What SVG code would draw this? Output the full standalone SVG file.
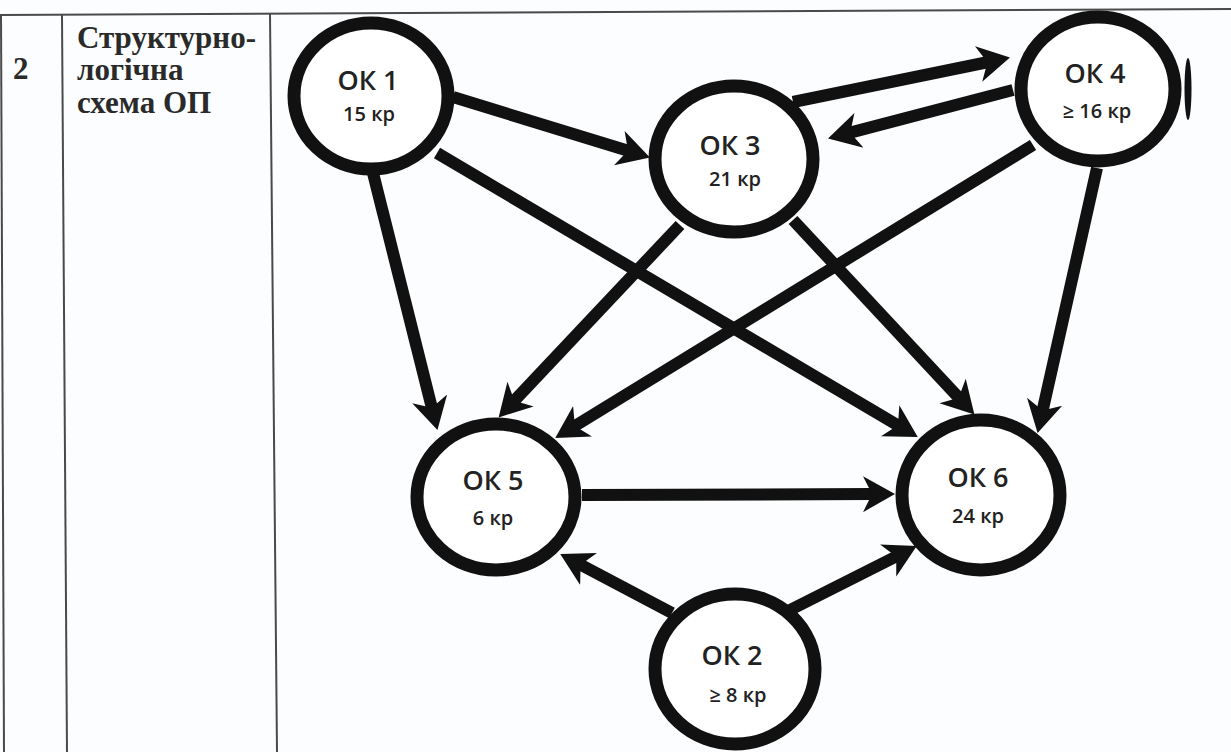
<svg xmlns="http://www.w3.org/2000/svg" width="1231" height="752" viewBox="0 0 1231 752">
<defs>
<style>
.tbl{stroke:#4a4a4a;stroke-width:2;fill:none}
.hdr{font-family:"Liberation Serif",serif;font-weight:bold;font-size:31px;fill:#2a2a2a}
.node{fill:#ffffff;stroke:#111;stroke-width:13}
.t1{font-family:"Open Sans","Noto Sans",sans-serif;font-weight:600;font-size:27px;fill:#222;text-anchor:middle}
.t2{font-family:"Open Sans","Noto Sans",sans-serif;font-weight:600;font-size:20px;fill:#222;text-anchor:middle}
.edge{stroke:#111;stroke-width:12;fill:none;marker-end:url(#ah)}
</style>
<marker id="ah" markerUnits="userSpaceOnUse" markerWidth="44" markerHeight="44" viewBox="0 -22 44 44" refX="10" refY="0" orient="auto">
<path d="M0,-18 L32,0 L0,18 L9,0 Z" fill="#111"/>
</marker>
</defs>
<rect width="1231" height="752" fill="#fbfdfe"/>
<g id="table">
<line class="tbl" x1="0" y1="15" x2="1231" y2="9"/>
<line class="tbl" x1="1" y1="15" x2="4" y2="752"/>
<line class="tbl" x1="62" y1="15" x2="67" y2="752"/>
<line class="tbl" x1="270" y1="14" x2="277" y2="752"/>
<text class="hdr" x="13" y="79">2</text>
<text class="hdr" x="77" y="48">Структурно-</text>
<text class="hdr" x="77" y="80">логічна</text>
<text class="hdr" x="77" y="113">схема ОП</text>
</g>
<g id="connectors">
<path class="edge" d="M453,97 L628.9,151.1"/>
<path class="edge" d="M793,102 L988.4,62"/>
<path class="edge" d="M1013,90 L849.3,132.9"/>
<path class="edge" d="M373,173 L432.1,408.6"/>
<path class="edge" d="M680,225 L513.7,401.4"/>
<path class="edge" d="M1033,145 L574,426.5"/>
<path class="edge" d="M437,153 L898.8,425.8"/>
<path class="edge" d="M793,220 L959.4,398.4"/>
<path class="edge" d="M1097,168 L1042.4,411.5"/>
<path class="edge" d="M582,495 L873,494.1"/>
<path class="edge" d="M672,613 L579.7,564.3"/>
<path class="edge" d="M790,610 L897.1,556"/>
</g>
<g id="ok1">
<ellipse class="node" cx="371" cy="96" rx="77" ry="73"/>
<text class="t1" x="368" y="90">ОК 1</text>
<text class="t2" x="369" y="121">15 кр</text>
</g>
<g id="ok3">
<ellipse class="node" cx="734" cy="159" rx="79" ry="73"/>
<text class="t1" x="730" y="155">ОК 3</text>
<text class="t2" x="735" y="186">21 кр</text>
</g>
<g id="ok4">
<ellipse class="node" cx="1098" cy="89" rx="77" ry="72"/>
<text class="t1" x="1095" y="83">ОК 4</text>
<text class="t2" x="1097" y="118">≥ 16 кр</text>
</g>
<g id="ok5">
<ellipse class="node" cx="496" cy="497" rx="79" ry="73"/>
<text class="t1" x="493" y="490">ОК 5</text>
<text class="t2" x="493" y="525">6 кр</text>
</g>
<g id="ok6">
<ellipse class="node" cx="981" cy="495" rx="79" ry="75"/>
<text class="t1" x="978" y="487">ОК 6</text>
<text class="t2" x="978" y="523">24 кр</text>
</g>
<g id="ok2">
<ellipse class="node" cx="735" cy="669" rx="80" ry="75"/>
<text class="t1" x="732" y="665">ОК 2</text>
<text class="t2" x="738" y="702">≥ 8 кр</text>
</g>
<g id="edge-fragment">
<ellipse cx="1188" cy="89" rx="3.5" ry="31" fill="#111"/>
</g>
</svg>
